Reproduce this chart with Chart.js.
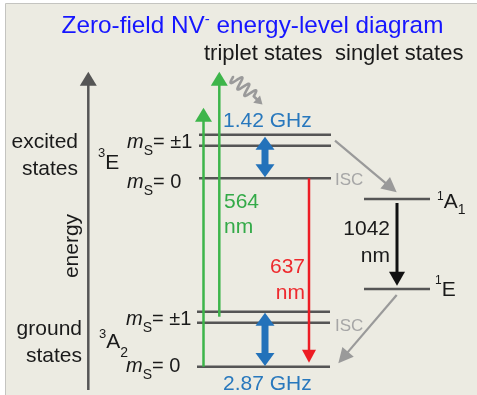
<!DOCTYPE html>
<html>
<head>
<meta charset="utf-8">
<script src="https://cdn.jsdelivr.net/npm/chart.js@4.4.1/dist/chart.umd.min.js"></script>
<style>
  html, body { margin: 0; padding: 0; background: #fff; }
  canvas { display: block; }
</style>
</head>
<body>
<canvas id="diagram" width="477" height="395"></canvas>
<script>
// Energy levels, y axis in arbitrary energy units
const levelNames = ['3A2 ms=0', '3A2 ms=±1 (low)', '3A2 ms=±1 (high)', '1E', '1A1', '3E ms=0', '3E ms=±1 (low)', '3E ms=±1 (high)'];
const levelEnergy = [28.3, 72.3, 83.3, 106, 196, 216.7, 249.3, 260.3];
const levelStart = [197, 197, 197, 364, 364, 199, 199, 199];
const levelEnd = [330, 330, 330, 430, 430, 331, 331, 331];

// Transitions: tail (x, E) -> tip (x, E)
const transNames = ['532 pump', '564 nm abs.', '637 nm', '1.42 GHz', '2.87 GHz', '1042 nm', 'ISC upper', 'ISC lower', 'phonon', 'energy axis'];
const transKind = ['green', 'green', 'red', 'mw', 'mw', 'black', 'isc', 'isc', 'wave', 'axis'];
const transX0 = [203.5, 219.3, 309, 265, 265, 397, 335, 396.7, 233, 88.3];
const transE0 = [28.3, 78.3, 216.7, 258.3, 82.3, 192, 254.3, 100, 318, 5];
const transX1 = [203.5, 219.3, 309, 265, 265, 397, 396.7, 338.3, 262.5, 88.3];
const transE1 = [287.3, 323.3, 32.3, 217.7, 29, 109.3, 202.7, 31.7, 290.5, 323.3];

const FONT = '"Liberation Sans", Arial, Helvetica, sans-serif';

const arrowStyles = {
  green: { color: '#3db54a', width: 2.5, head: 14, headW: 17 },
  red:   { color: '#ed1c24', width: 2.5, head: 13, headW: 14 },
  mw:    { color: '#2372ba', width: 7, head: 13, headW: 19 },
  black: { color: '#111111', width: 3, head: 14, headW: 16 },
  isc:   { color: '#9a9a9a', width: 2.2, head: 15, headW: 15 },
  wave:  { color: '#9a9a9a', width: 2.6, head: 8, headW: 10 },
  axis:  { color: '#555555', width: 2.5, head: 14, headW: 17 }
};

const BLACK = '#1a1a1a', BLUE = '#2878bd', GREEN = '#33aa48', RED = '#ee2a2e', GRAY = '#a6a6a6';
const r = (t, size, opt) => Object.assign({ t: t, size: size, dy: 0, style: '' }, opt || {});
const ms = (tail) => [r('m', 20, { style: 'italic ' }), r('S', 14, { dy: 7 }), r(tail, 20)];

const labels = [
  { x: 252.5, e: 362, align: 'center', color: '#1616ff', runs: [r('Zero-field NV', 24.3), r('-', 15, { dy: -9 }), r(' energy-level diagram', 24.3)] },
  { x: 204, e: 335, align: 'left', color: BLACK, runs: [r('triplet states', 22)] },
  { x: 335, e: 335, align: 'left', color: BLACK, runs: [r('singlet states', 22)] },
  { x: 78, e: 247, align: 'right', color: BLACK, runs: [r('excited', 21)] },
  { x: 78, e: 220, align: 'right', color: BLACK, runs: [r('states', 21)] },
  { x: 82, e: 60, align: 'right', color: BLACK, runs: [r('ground', 21)] },
  { x: 82, e: 33, align: 'right', color: BLACK, runs: [r('states', 21)] },
  { x: 72, e: 149, align: 'center', color: BLACK, rotate: true, runs: [r('energy', 21)] },
  { x: 98, e: 226, align: 'left', color: BLACK, runs: [r('3', 13, { dy: -12 }), r('E', 21)] },
  { x: 127, e: 247, align: 'left', color: BLACK, runs: ms('= ±1') },
  { x: 127, e: 207, align: 'left', color: BLACK, runs: ms('= 0') },
  { x: 99, e: 47, align: 'left', color: BLACK, runs: [r('3', 13, { dy: -10 }), r('A', 21), r('2', 14, { dy: 9 })] },
  { x: 126, e: 70, align: 'left', color: BLACK, runs: ms('= ±1') },
  { x: 126, e: 23, align: 'left', color: BLACK, runs: ms('= 0') },
  { x: 223, e: 268, align: 'left', color: BLUE, runs: [r('1.42 GHz', 21)] },
  { x: 223, e: 5, align: 'left', color: BLUE, runs: [r('2.87 GHz', 21)] },
  { x: 335, e: 210, align: 'left', color: GRAY, runs: [r('ISC', 17)] },
  { x: 335, e: 64, align: 'left', color: GRAY, runs: [r('ISC', 17)] },
  { x: 224, e: 187, align: 'left', color: GREEN, runs: [r('564', 21)] },
  { x: 224, e: 162, align: 'left', color: GREEN, runs: [r('nm', 21)] },
  { x: 390, e: 160, align: 'right', color: BLACK, runs: [r('1042', 21)] },
  { x: 390, e: 133, align: 'right', color: BLACK, runs: [r('nm', 21)] },
  { x: 305, e: 122, align: 'right', color: RED, runs: [r('637', 21)] },
  { x: 305, e: 96, align: 'right', color: RED, runs: [r('nm', 21)] },
  { x: 437, e: 187, align: 'left', color: BLACK, runs: [r('1', 12, { dy: -8 }), r('A', 21), r('1', 14, { dy: 6 })] },
  { x: 435, e: 99, align: 'left', color: BLACK, runs: [r('1', 12, { dy: -12 }), r('E', 21)] }
];

function drawHead(ctx, tx, ty, ux, uy, st) {
  const bx = tx - ux * st.head, by = ty - uy * st.head;
  ctx.fillStyle = st.color;
  ctx.beginPath();
  ctx.moveTo(tx, ty);
  ctx.lineTo(bx - uy * st.headW / 2, by + ux * st.headW / 2);
  ctx.lineTo(bx + uy * st.headW / 2, by - ux * st.headW / 2);
  ctx.closePath();
  ctx.fill();
}

function drawArrow(ctx, x0, y0, x1, y1, kind) {
  const st = arrowStyles[kind];
  const dx = x1 - x0, dy = y1 - y0, len = Math.hypot(dx, dy);
  const ux = dx / len, uy = dy / len;
  ctx.save();
  ctx.strokeStyle = st.color;
  ctx.lineWidth = st.width;
  ctx.lineCap = 'butt';
  ctx.lineJoin = 'round';
  ctx.beginPath();
  if (kind === 'mw') {
    ctx.moveTo(x0 + ux * (st.head - 1), y0 + uy * (st.head - 1));
    ctx.lineTo(x1 - ux * (st.head - 1), y1 - uy * (st.head - 1));
    ctx.stroke();
    drawHead(ctx, x1, y1, ux, uy, st);
    drawHead(ctx, x0, y0, -ux, -uy, st);
  } else if (kind === 'wave') {
    // squiggle of ~3 periods, then a short straight run into the head
    const waveLen = len - st.head - 4;
    const steps = 80;
    ctx.lineCap = 'round';
    for (let i = 0; i <= steps; i++) {
      const s = waveLen * i / steps;
      const a = 6 * Math.sin(2 * Math.PI * 3 * i / steps);
      const px = x0 + ux * s - uy * a, py = y0 + uy * s + ux * a;
      if (i === 0) ctx.moveTo(px, py); else ctx.lineTo(px, py);
    }
    ctx.lineTo(x1 - ux * (st.head - 1), y1 - uy * (st.head - 1));
    ctx.stroke();
    drawHead(ctx, x1, y1, ux, uy, st);
  } else {
    ctx.moveTo(x0, y0);
    ctx.lineTo(x1 - ux * (st.head - 1), y1 - uy * (st.head - 1));
    ctx.stroke();
    drawHead(ctx, x1, y1, ux, uy, st);
  }
  ctx.restore();
}

function drawRuns(ctx, item, x, y) {
  let total = 0;
  item.runs.forEach(run => {
    ctx.font = run.style + run.size + 'px ' + FONT;
    run.w = ctx.measureText(run.t).width;
    total += run.w;
  });
  let cx = x;
  if (item.align === 'center') cx = x - total / 2;
  if (item.align === 'right') cx = x - total;
  ctx.fillStyle = item.color;
  ctx.textAlign = 'left';
  item.runs.forEach(run => {
    ctx.font = run.style + run.size + 'px ' + FONT;
    ctx.fillText(run.t, cx, y + run.dy);
    cx += run.w;
  });
}

const backgroundPlugin = {
  id: 'panelBackground',
  beforeDraw(chart) {
    const ctx = chart.ctx;
    ctx.save();
    ctx.fillStyle = '#ffffff';
    ctx.fillRect(0, 0, chart.width, chart.height);
    ctx.fillStyle = '#ecebe2';
    ctx.fillRect(6, 4, chart.width - 6, chart.height - 4);
    ctx.strokeStyle = '#c4c4c0';
    ctx.lineWidth = 1;
    ctx.beginPath();
    ctx.moveTo(5.5, chart.height);
    ctx.lineTo(5.5, 3.5);
    ctx.lineTo(chart.width, 3.5);
    ctx.stroke();
    ctx.restore();
  }
};

const annotationPlugin = {
  id: 'arrowsAndLabels',
  afterDatasetsDraw(chart) {
    const ctx = chart.ctx;
    const xs = chart.scales.x, ys = chart.scales.y;
    transKind.forEach((kind, i) => {
      drawArrow(ctx,
        xs.getPixelForValue(transX0[i]), ys.getPixelForValue(transE0[i]),
        xs.getPixelForValue(transX1[i]), ys.getPixelForValue(transE1[i]), kind);
    });
    ctx.save();
    ctx.textBaseline = 'alphabetic';
    labels.forEach(item => {
      const x = xs.getPixelForValue(item.x), y = ys.getPixelForValue(item.e);
      if (item.rotate) {
        ctx.save();
        ctx.translate(x, y);
        ctx.rotate(-Math.PI / 2);
        ctx.textBaseline = 'middle';
        drawRuns(ctx, item, 0, 0);
        ctx.restore();
      } else {
        drawRuns(ctx, item, x, y);
      }
    });
    ctx.restore();
  }
};

const levelDatasets = levelNames.map((name, i) => ({
  label: name,
  data: [{ x: levelStart[i], y: levelEnergy[i] }, { x: levelEnd[i], y: levelEnergy[i] }],
  showLine: true,
  borderColor: '#555555',
  borderWidth: 2.5,
  borderCapStyle: 'butt',
  pointRadius: 0,
  fill: false
}));

const chart = new Chart(document.getElementById('diagram'), {
  type: 'scatter',
  data: { datasets: levelDatasets },
  options: {
    responsive: false,
    animation: false,
    layout: { padding: 0 },
    plugins: {
      legend: { display: false },
      tooltip: { enabled: false }
    },
    scales: {
      x: { type: 'linear', min: 0, max: 477, display: false },
      y: { type: 'linear', min: 0, max: 395, display: false }
    }
  },
  plugins: [backgroundPlugin, annotationPlugin]
});
</script>
</body>
</html>
